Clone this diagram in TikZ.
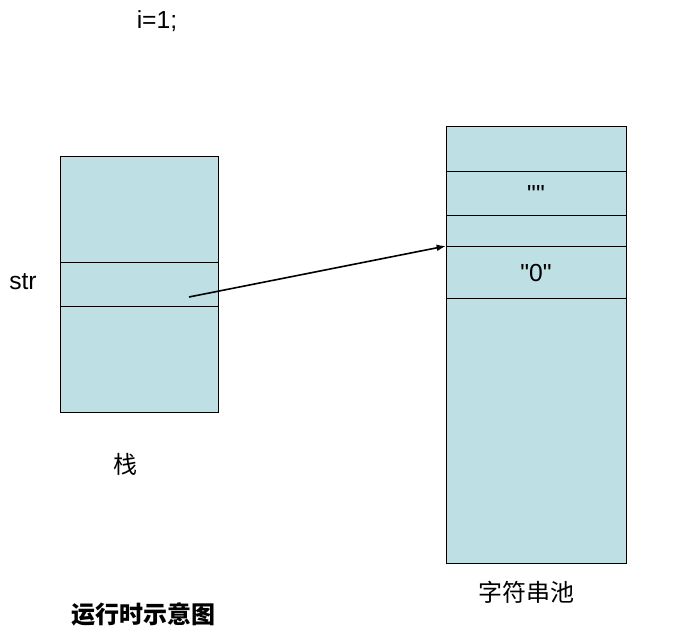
\documentclass[tikz,border=0pt]{standalone}
\usepackage{fontspec}
\setmainfont{Liberation Sans}[Ligatures=TeXOff]
\newfontfamily\cjk{Noto Sans CJK SC}
\usetikzlibrary{arrows.meta}
\definecolor{cellblue}{RGB}{190,223,228}
\begin{document}
\begin{tikzpicture}[x=0.75pt,y=-0.75pt,
  cell/.style={draw=black,line width=0.75pt,fill=cellblue},
  sep/.style={draw=black,line width=0.75pt},
  lbl/.style={font=\fontsize{18.5}{22}\selectfont,inner sep=0pt},
  cjklbl/.style={font=\fontsize{18}{22}\selectfont\cjk,inner sep=0pt},
  ptr/.style={draw=black,line width=1.2pt,-{Latex[length=7pt,width=5pt]}}]
\useasboundingbox (0,0) rectangle (679,632);
% stack
\path[cell] (60,156) rectangle (218,412);
\draw[sep] (60,262) -- (218,262);
\draw[sep] (60,306) -- (218,306);
% pool
\path[cell] (446,126) rectangle (626,563);
\draw[sep] (446,171) -- (626,171);
\draw[sep] (446,215) -- (626,215);
\draw[sep] (446,246) -- (626,246);
\draw[sep] (446,298) -- (626,298);
% texts
\node[lbl] (code) at (157,21) {i=1;};
\node[lbl] (str) at (23,282) {str};
\node[lbl] (empty) at (536,194) {""};
\node[lbl] (zero) at (536,273) {"0"};
\node[cjklbl] (stack) at (125,464) {栈};
\node[cjklbl] (pool) at (526,592) {字符串池};
\node[cjklbl,font=\fontsize{18}{22}\selectfont\cjk\bfseries] (title) at (143,614) {运行时示意图};
% pointer
\coordinate (src) at (189,297);
\coordinate (dst) at (446,246);
\draw[ptr] (src) -- (dst);
\end{tikzpicture}
\end{document}
